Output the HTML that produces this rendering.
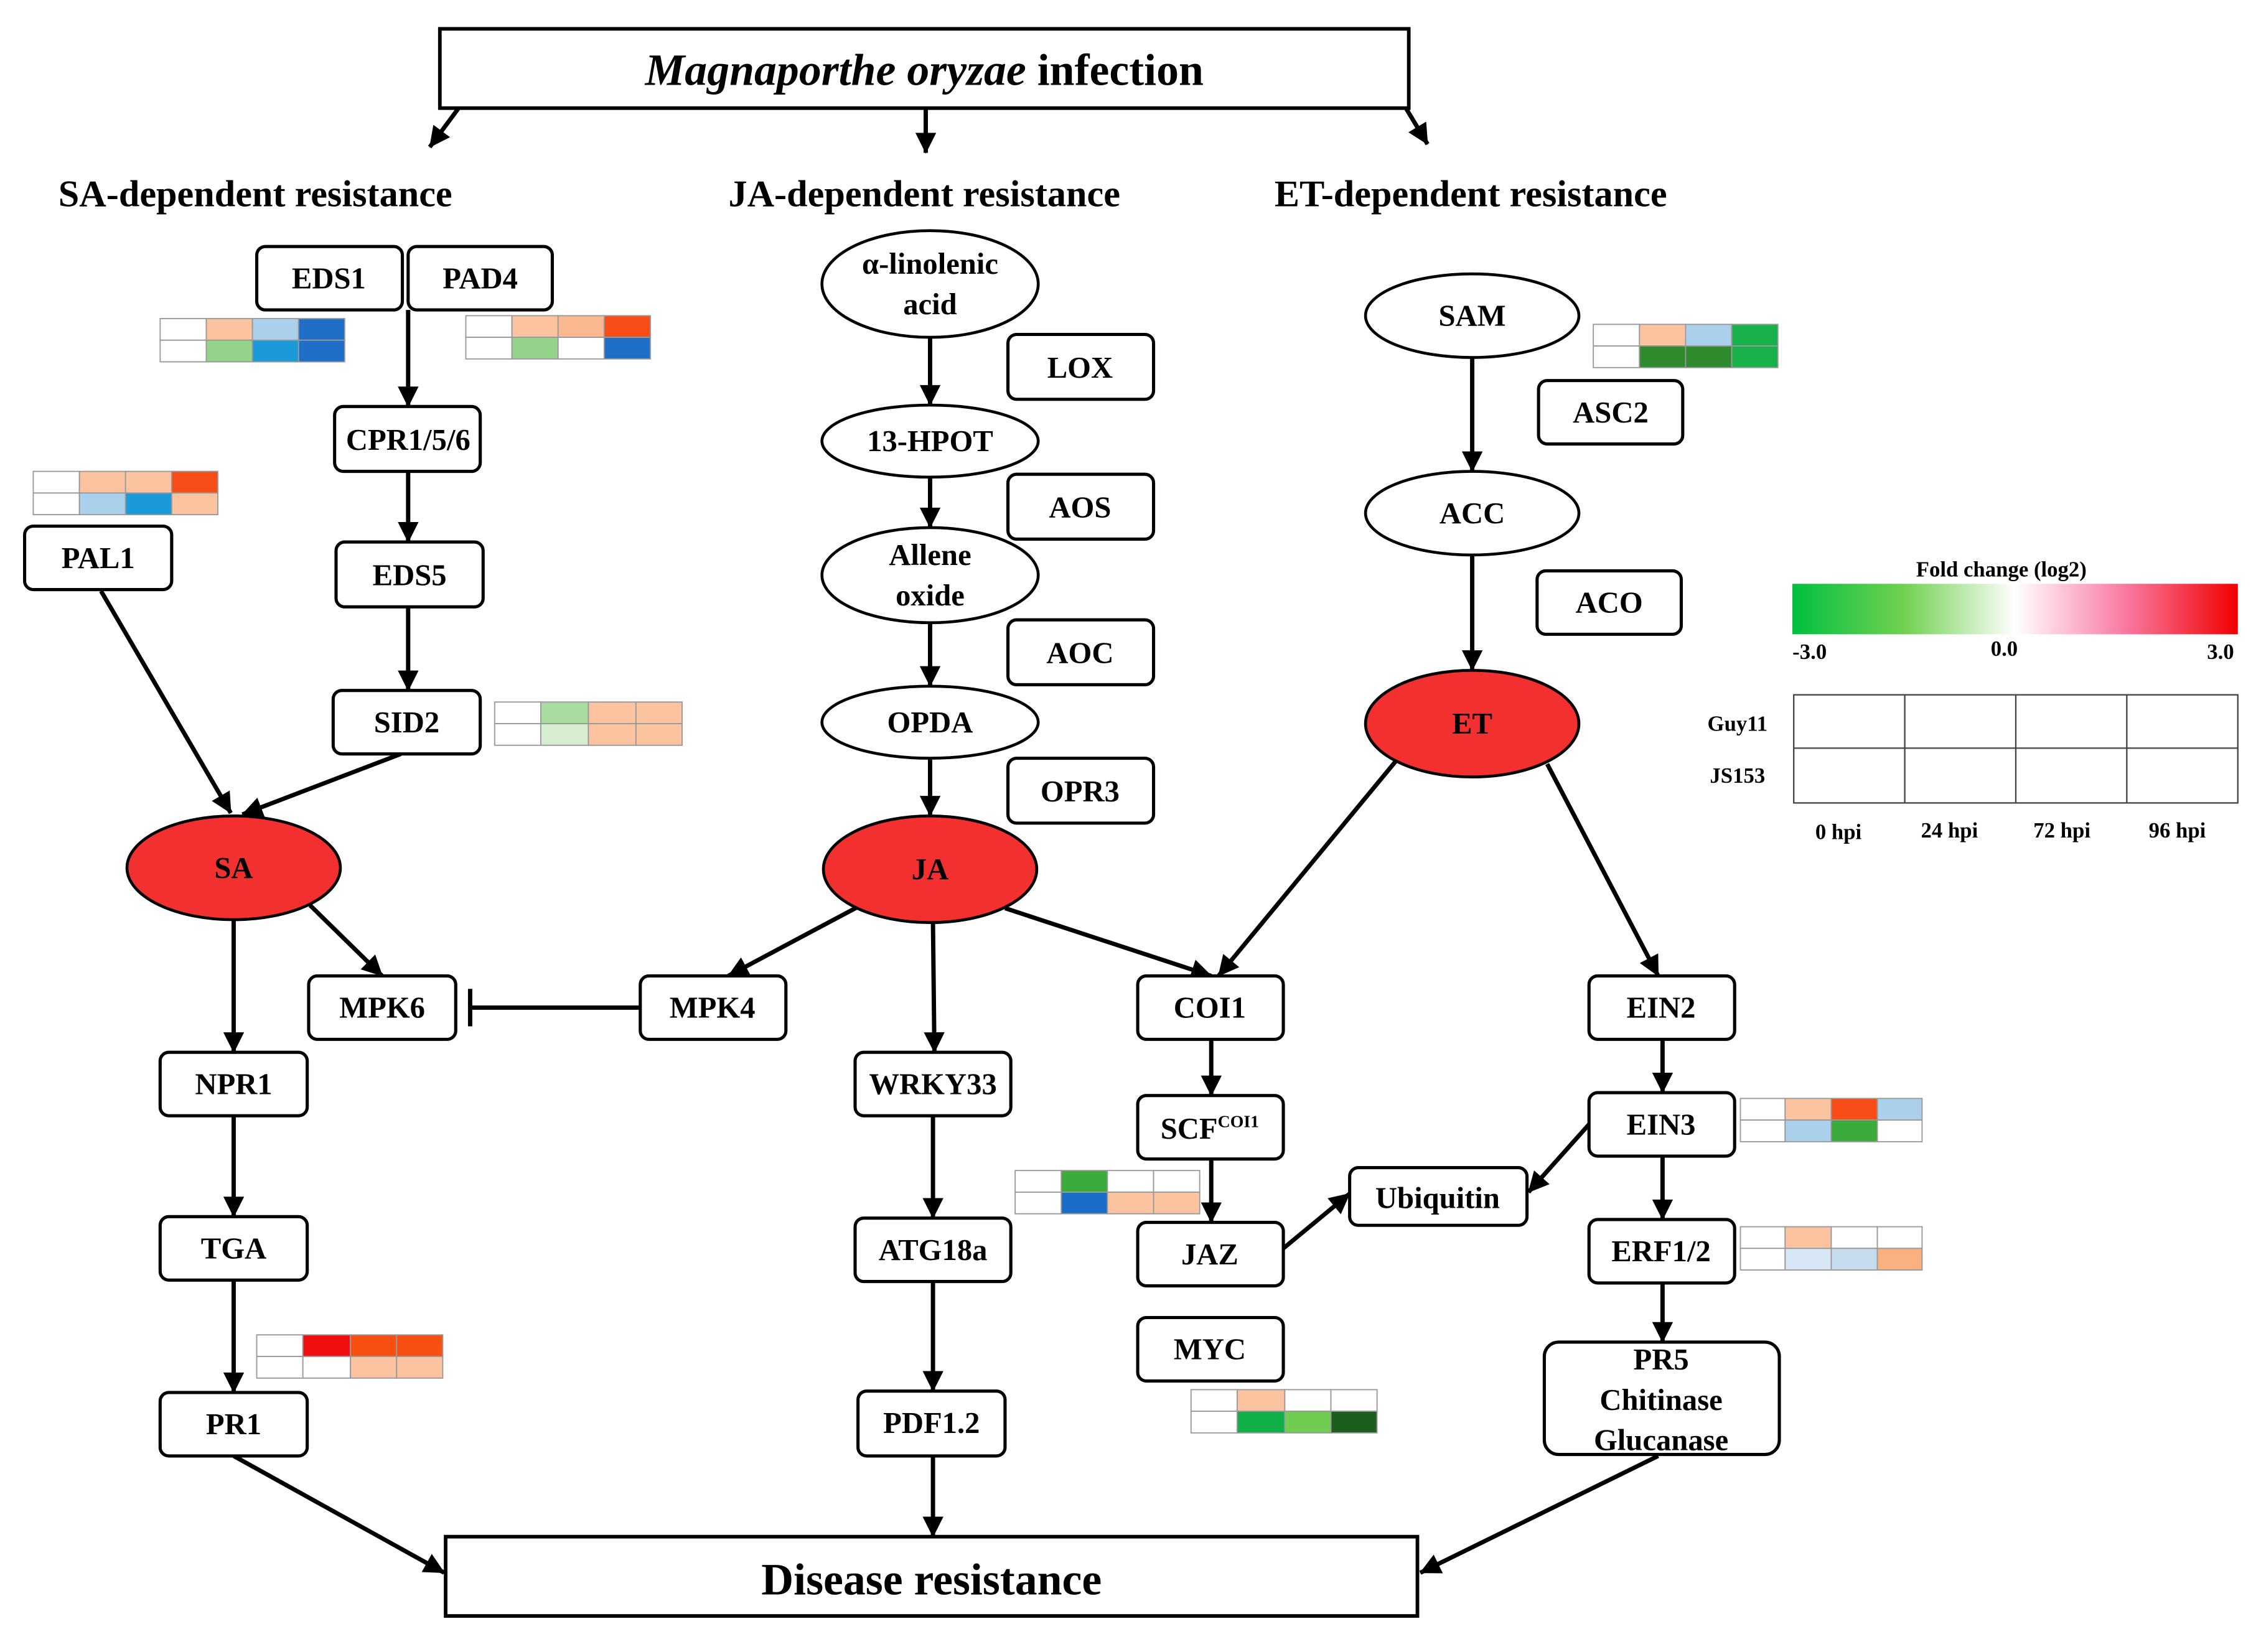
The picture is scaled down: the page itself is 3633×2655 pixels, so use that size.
<!DOCTYPE html>
<html><head><meta charset="utf-8"><style>html,body{margin:0;padding:0;background:#fff}svg{display:block}</style></head>
<body>
<svg width="3633" height="2655" viewBox="0 0 1568 1146" xmlns="http://www.w3.org/2000/svg" font-family="Liberation Serif, serif" font-weight="bold">
<defs>
<marker id="a" viewBox="0 0 10 10" refX="9" refY="5" markerWidth="9" markerHeight="9" markerUnits="userSpaceOnUse" orient="auto" style="overflow:visible">
<path d="M0,0 L10,5 L0,10 Z" fill="#000" transform="scale(1.6) translate(-4,-1.9)"/></marker>
<linearGradient id="g" x1="0" x2="1"><stop offset="0" stop-color="#00c040"/><stop offset="0.25" stop-color="#70d050"/><stop offset="0.5" stop-color="#ffffff"/><stop offset="0.75" stop-color="#f878a0"/><stop offset="1" stop-color="#f00000"/></linearGradient>
</defs>
<g stroke="#000" stroke-width="2.5" fill="none">
<rect x="305" y="20" width="672" height="55"/>
<rect x="309" y="1066" width="674" height="55"/>
</g>
<text x="641" y="59" font-size="31" text-anchor="middle"><tspan font-style="italic">Magnaporthe oryzae</tspan> infection</text>
<text x="646" y="1106" font-size="31" text-anchor="middle">Disease resistance</text>
<g font-size="26" text-anchor="middle">
<text x="177" y="143">SA-dependent resistance</text>
<text x="641" y="143">JA-dependent resistance</text>
<text x="1020" y="143">ET-dependent resistance</text>
</g>
<g stroke="#000" stroke-width="3" fill="none" marker-end="url(#a)">
<line x1="318" y1="75" x2="298" y2="102"/>
<line x1="642" y1="75" x2="642" y2="106"/>
<line x1="975" y1="75" x2="990" y2="100"/>
<line x1="283" y1="215" x2="283" y2="282"/>
<line x1="283" y1="327" x2="283" y2="376"/>
<line x1="283" y1="421" x2="283" y2="479"/>
<line x1="70" y1="410" x2="160" y2="564"/>
<line x1="278" y1="523" x2="168" y2="565"/>
<line x1="162" y1="638" x2="162" y2="730"/>
<line x1="215" y1="628" x2="265" y2="677"/>
<line x1="162" y1="774" x2="162" y2="844"/>
<line x1="162" y1="888" x2="162" y2="966"/>
<line x1="162" y1="1010" x2="308" y2="1091"/>
<line x1="645" y1="234" x2="645" y2="281"/>
<line x1="645" y1="331" x2="645" y2="366"/>
<line x1="645" y1="432" x2="645" y2="476"/>
<line x1="645" y1="526" x2="645" y2="566"/>
<line x1="597" y1="628" x2="505" y2="677"/>
<line x1="647" y1="640" x2="648" y2="730"/>
<line x1="697" y1="630" x2="840" y2="677"/>
<line x1="647" y1="774" x2="647" y2="845"/>
<line x1="647" y1="889" x2="647" y2="965"/>
<line x1="647" y1="1010" x2="647" y2="1066"/>
<line x1="1021" y1="248" x2="1021" y2="327"/>
<line x1="1021" y1="385" x2="1021" y2="465"/>
<line x1="968" y1="528" x2="845" y2="677"/>
<line x1="1073" y1="530" x2="1150" y2="677"/>
<line x1="840" y1="721" x2="840" y2="760"/>
<line x1="840" y1="804" x2="840" y2="848"/>
<line x1="890" y1="866" x2="936" y2="828"/>
<line x1="1102" y1="780" x2="1060" y2="827"/>
<line x1="1153" y1="721" x2="1153" y2="758"/>
<line x1="1153" y1="802" x2="1153" y2="846"/>
<line x1="1153" y1="890" x2="1153" y2="931"/>
<line x1="1150" y1="1010" x2="985" y2="1091"/>
</g>
<g stroke="#000" stroke-width="3"><line x1="444" y1="699" x2="326" y2="699"/><line x1="326" y1="686" x2="326" y2="712"/></g>
<g stroke="#000" stroke-width="2">
<ellipse cx="162" cy="602" rx="74" ry="36" fill="#f33030"/>
<ellipse cx="645" cy="603" rx="74" ry="37" fill="#f33030"/>
<ellipse cx="1021" cy="502" rx="74" ry="37" fill="#f33030"/>
<g fill="#fff">
<ellipse cx="645" cy="197" rx="75" ry="37"/>
<ellipse cx="645" cy="306" rx="75" ry="25"/>
<ellipse cx="645" cy="399" rx="75" ry="33"/>
<ellipse cx="645" cy="501" rx="75" ry="25"/>
<ellipse cx="1021" cy="219" rx="74" ry="29"/>
<ellipse cx="1021" cy="356" rx="74" ry="29"/>
</g></g>
<g font-size="21" text-anchor="middle">
<text x="162" y="609">SA</text><text x="645" y="610">JA</text><text x="1021" y="509">ET</text>
<text x="645" y="190">α-linolenic</text><text x="645" y="218">acid</text>
<text x="645" y="313">13-HPOT</text>
<text x="645" y="392">Allene</text><text x="645" y="420">oxide</text>
<text x="645" y="508">OPDA</text>
<text x="1021" y="226">SAM</text><text x="1021" y="363">ACC</text>
</g>
<g stroke="#000" stroke-width="2.2" fill="#fff">
<rect x="178" y="171" width="101" height="44" rx="6"/>
<rect x="283" y="171" width="100" height="44" rx="6"/>
<rect x="232" y="282" width="101" height="45" rx="6"/>
<rect x="233" y="376" width="102" height="45" rx="6"/>
<rect x="231" y="479" width="102" height="44" rx="6"/>
<rect x="17" y="365" width="102" height="44" rx="6"/>
<rect x="699" y="232" width="101" height="45" rx="6"/>
<rect x="699" y="329" width="101" height="45" rx="6"/>
<rect x="699" y="430" width="101" height="45" rx="6"/>
<rect x="699" y="526" width="101" height="45" rx="6"/>
<rect x="1067" y="264" width="100" height="44" rx="6"/>
<rect x="1066" y="396" width="100" height="44" rx="6"/>
<rect x="214" y="677" width="102" height="44" rx="6"/>
<rect x="444" y="677" width="101" height="44" rx="6"/>
<rect x="111" y="730" width="102" height="44" rx="6"/>
<rect x="111" y="844" width="102" height="44" rx="6"/>
<rect x="111" y="966" width="102" height="44" rx="6"/>
<rect x="593" y="730" width="108" height="44" rx="6"/>
<rect x="593" y="845" width="108" height="44" rx="6"/>
<rect x="595" y="965" width="102" height="45" rx="6"/>
<rect x="789" y="677" width="101" height="44" rx="6"/>
<rect x="789" y="760" width="101" height="44" rx="6"/>
<rect x="789" y="848" width="101" height="44" rx="6"/>
<rect x="789" y="914" width="101" height="44" rx="6"/>
<rect x="936" y="810" width="123" height="40" rx="6"/>
<rect x="1102" y="677" width="101" height="44" rx="6"/>
<rect x="1102" y="758" width="101" height="44" rx="6"/>
<rect x="1102" y="846" width="101" height="44" rx="6"/>
<rect x="1071" y="931" width="163" height="78" rx="10"/>
</g>
<g font-size="21" text-anchor="middle">
<text x="228" y="200">EDS1</text><text x="333" y="200">PAD4</text>
<text x="283" y="312">CPR1/5/6</text><text x="284" y="406">EDS5</text>
<text x="282" y="508">SID2</text><text x="68" y="394">PAL1</text>
<text x="749" y="262">LOX</text><text x="749" y="359">AOS</text>
<text x="749" y="460">AOC</text><text x="749" y="556">OPR3</text>
<text x="1117" y="293">ASC2</text><text x="1116" y="425">ACO</text>
<text x="265" y="706">MPK6</text><text x="494" y="706">MPK4</text>
<text x="162" y="759">NPR1</text><text x="162" y="873">TGA</text><text x="162" y="995">PR1</text>
<text x="647" y="759">WRKY33</text><text x="647" y="874">ATG18a</text><text x="646" y="994">PDF1.2</text>
<text x="839" y="706">COI1</text>
<text x="839" y="790">SCF<tspan font-size="12" dy="-8">COI1</tspan></text>
<text x="839" y="877">JAZ</text><text x="839" y="943">MYC</text>
<text x="997" y="838">Ubiquitin</text>
<text x="1152" y="706">EIN2</text><text x="1152" y="787">EIN3</text><text x="1152" y="875">ERF1/2</text>
<text x="1152" y="950">PR5</text><text x="1152" y="978">Chitinase</text><text x="1152" y="1006">Glucanase</text>
</g>
<g stroke="#999" stroke-width="0.8">
<g transform="translate(111,221)"><rect width="32" height="15" fill="#fff"/><rect x="32" width="32" height="15" fill="#fcc3a0"/><rect x="64" width="32" height="15" fill="#abd0ec"/><rect x="96" width="32" height="15" fill="#1f6fc8"/><rect y="15" width="32" height="15" fill="#fff"/><rect x="32" y="15" width="32" height="15" fill="#94d38a"/><rect x="64" y="15" width="32" height="15" fill="#1a9ad8"/><rect x="96" y="15" width="32" height="15" fill="#1f6fc8"/></g>
<g transform="translate(323,219)"><rect width="32" height="15" fill="#fff"/><rect x="32" width="32" height="15" fill="#fcc3a0"/><rect x="64" width="32" height="15" fill="#fcb890"/><rect x="96" width="32" height="15" fill="#f84d17"/><rect y="15" width="32" height="15" fill="#fff"/><rect x="32" y="15" width="32" height="15" fill="#94d38a"/><rect x="64" y="15" width="32" height="15" fill="#fff"/><rect x="96" y="15" width="32" height="15" fill="#1f6fc8"/></g>
<g transform="translate(23,327)"><rect width="32" height="15" fill="#fff"/><rect x="32" width="32" height="15" fill="#fcc3a0"/><rect x="64" width="32" height="15" fill="#fcc3a0"/><rect x="96" width="32" height="15" fill="#f84d17"/><rect y="15" width="32" height="15" fill="#fff"/><rect x="32" y="15" width="32" height="15" fill="#abd0ec"/><rect x="64" y="15" width="32" height="15" fill="#1a9ad8"/><rect x="96" y="15" width="32" height="15" fill="#fcc3a0"/></g>
<g transform="translate(343,487)"><rect width="32" height="15" fill="#fff"/><rect x="32" width="33" height="15" fill="#a8dca0"/><rect x="65" width="33" height="15" fill="#fcc3a0"/><rect x="98" width="32" height="15" fill="#fcc3a0"/><rect y="15" width="32" height="15" fill="#fff"/><rect x="32" y="15" width="33" height="15" fill="#d8eed2"/><rect x="65" y="15" width="33" height="15" fill="#fcc3a0"/><rect x="98" y="15" width="32" height="15" fill="#fcc3a0"/></g>
<g transform="translate(1105,225)"><rect width="32" height="15" fill="#fff"/><rect x="32" width="32" height="15" fill="#fcc3a0"/><rect x="64" width="32" height="15" fill="#abd0ec"/><rect x="96" width="32" height="15" fill="#19b24a"/><rect y="15" width="32" height="15" fill="#fff"/><rect x="32" y="15" width="32" height="15" fill="#2e8b2e"/><rect x="64" y="15" width="32" height="15" fill="#2e8b2e"/><rect x="96" y="15" width="32" height="15" fill="#19b24a"/></g>
<g transform="translate(178,926)"><rect width="32" height="15" fill="#fff"/><rect x="32" width="33" height="15" fill="#f01010"/><rect x="65" width="32" height="15" fill="#f85010"/><rect x="97" width="32" height="15" fill="#f85010"/><rect y="15" width="32" height="15" fill="#fff"/><rect x="32" y="15" width="33" height="15" fill="#fff"/><rect x="65" y="15" width="32" height="15" fill="#fcc3a0"/><rect x="97" y="15" width="32" height="15" fill="#fcc3a0"/></g>
<g transform="translate(704,812)"><rect width="32" height="15" fill="#fff"/><rect x="32" width="32" height="15" fill="#3bab3b"/><rect x="64" width="32" height="15" fill="#fff"/><rect x="96" width="32" height="15" fill="#fff"/><rect y="15" width="32" height="15" fill="#fff"/><rect x="32" y="15" width="32" height="15" fill="#1a6ec8"/><rect x="64" y="15" width="32" height="15" fill="#fcc3a0"/><rect x="96" y="15" width="32" height="15" fill="#fcc3a0"/></g>
<g transform="translate(826,964)"><rect width="32" height="15" fill="#fff"/><rect x="32" width="33" height="15" fill="#fcc3a0"/><rect x="65" width="32" height="15" fill="#fff"/><rect x="97" width="32" height="15" fill="#fff"/><rect y="15" width="32" height="15" fill="#fff"/><rect x="32" y="15" width="33" height="15" fill="#10b048"/><rect x="65" y="15" width="32" height="15" fill="#70cc50"/><rect x="97" y="15" width="32" height="15" fill="#1d5e1d"/></g>
<g transform="translate(1207,762)"><rect width="31" height="15" fill="#fff"/><rect x="31" width="32" height="15" fill="#fcc3a0"/><rect x="63" width="32" height="15" fill="#f84d17"/><rect x="95" width="31" height="15" fill="#abd0ec"/><rect y="15" width="31" height="15" fill="#fff"/><rect x="31" y="15" width="32" height="15" fill="#abd0ec"/><rect x="63" y="15" width="32" height="15" fill="#3bab3b"/><rect x="95" y="15" width="31" height="15" fill="#fff"/></g>
<g transform="translate(1207,851)"><rect width="31" height="15" fill="#fff"/><rect x="31" width="32" height="15" fill="#fcc3a0"/><rect x="63" width="32" height="15" fill="#fff"/><rect x="95" width="31" height="15" fill="#fff"/><rect y="15" width="31" height="15" fill="#fff"/><rect x="31" y="15" width="32" height="15" fill="#d6e6f4"/><rect x="63" y="15" width="32" height="15" fill="#c8dcf0"/><rect x="95" y="15" width="31" height="15" fill="#fbb080"/></g>
</g>
<text x="1388" y="400" font-size="15" text-anchor="middle">Fold change (log2)</text>
<rect x="1243" y="405" width="309" height="35" fill="url(#g)"/>
<g font-size="15" text-anchor="middle"><text x="1255" y="457">-3.0</text><text x="1390" y="455">0.0</text><text x="1540" y="457">3.0</text>
<text x="1205" y="507">Guy11</text><text x="1205" y="543">JS153</text>
<text x="1275" y="582">0 hpi</text><text x="1352" y="581">24 hpi</text><text x="1430" y="581">72 hpi</text><text x="1510" y="581">96 hpi</text></g>
<g stroke="#444" stroke-width="1" fill="none"><rect x="1244" y="482" width="308" height="75"/><line x1="1244" y1="519" x2="1552" y2="519"/><line x1="1321" y1="482" x2="1321" y2="557"/><line x1="1398" y1="482" x2="1398" y2="557"/><line x1="1475" y1="482" x2="1475" y2="557"/></g>
</svg>
</body></html>
